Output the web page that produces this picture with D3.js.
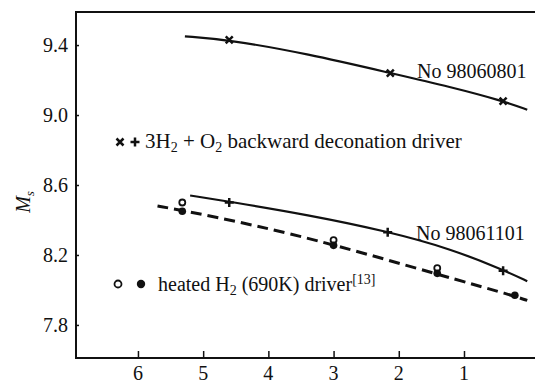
<!DOCTYPE html>
<html>
<head>
<meta charset="utf-8">
<script src="https://cdn.jsdelivr.net/npm/d3@7"></script>
<style>
  body { margin: 0; background: #fff; }
  svg text { font-family: "Liberation Serif", "Times New Roman", serif; fill: #111; }
</style>
</head>
<body>
<svg id="chart" width="535" height="383"></svg>
<script>
// --- data (x = distance, y = Ms) ---
const xTicks = [6, 5, 4, 3, 2, 1];
const yTicks = [7.8, 8.2, 8.6, 9.0, 9.4];

// No 98060801 : 3H2+O2 backward detonation driver, x markers
const shot1Marks = [[4.6, 9.43], [2.13, 9.24], [0.4, 9.08]];
const shot1Fit = [[5.28, 9.45], [4.6, 9.43], [3.4, 9.35], [2.13, 9.24], [1.2, 9.16], [0.4, 9.08], [0.03, 9.03]];

// No 98061101 : + markers
const shot2Marks = [[4.6, 8.50], [2.17, 8.33], [0.4, 8.11]];
const shot2Fit = [[5.2, 8.54], [4.6, 8.505], [3.4, 8.43], [2.17, 8.335], [1.2, 8.235], [0.4, 8.115], [0.03, 8.05]];

// heated H2 (690K) driver [13]
const heatedOpen = [[5.32, 8.50], [3.0, 8.285], [1.41, 8.125]];
const heatedFilled = [[5.32, 8.45], [3.0, 8.255], [1.41, 8.095], [0.22, 7.97]];
const heatedFit = [[5.7, 8.48], [5.32, 8.455], [4.2, 8.37], [3.0, 8.26], [1.41, 8.09], [0.22, 7.965], [0.03, 7.94]];

const svg = d3.select("#chart");
const plotLeft = 76, plotRight = 529.2, plotTop = 12, plotBottom = 358;

const x = d3.scaleLinear().domain([6.95, 0]).range([plotLeft, plotRight]);
const y = d3.scaleLinear().domain([7.611, 9.589]).range([plotBottom, plotTop]);

// frame: left, top, bottom
svg.append("path")
  .attr("d", `M535,${plotTop}H${plotLeft}V${plotBottom}H535`)
  .attr("fill", "none").attr("stroke", "#111").attr("stroke-width", 2);

// y axis ticks (inward)
const yAxis = svg.append("g")
  .attr("transform", `translate(${plotLeft},0)`)
  .call(d3.axisRight(y).tickValues(yTicks).tickSize(3).tickFormat(""));
yAxis.select(".domain").remove();
yAxis.selectAll("line").attr("stroke", "#111").attr("stroke-width", 1.5);

svg.append("g").selectAll("text")
  .data(yTicks).enter().append("text")
  .attr("x", plotLeft - 8)
  .attr("y", d => y(d) + 7)
  .attr("text-anchor", "end")
  .style("font-size", "20px")
  .text(d => d.toFixed(1));

// x axis ticks (inward)
const xAxis = svg.append("g")
  .attr("transform", `translate(0,${plotBottom})`)
  .call(d3.axisTop(x).tickValues(xTicks).tickSize(7).tickFormat(""));
xAxis.select(".domain").remove();
xAxis.selectAll("line").attr("stroke", "#111").attr("stroke-width", 1.5);

svg.append("g").selectAll("text")
  .data(xTicks).enter().append("text")
  .attr("x", d => x(d))
  .attr("y", 380)
  .attr("text-anchor", "middle")
  .style("font-size", "20px")
  .text(d => d);

// y label M_s
const yl = svg.append("text")
  .attr("transform", "translate(30,202) rotate(-90)")
  .attr("text-anchor", "middle")
  .style("font-size", "20px")
  .style("font-style", "italic");
yl.append("tspan").text("M");
yl.append("tspan").attr("dy", 4).style("font-size", "13px").text("s");

// curves
const line = d3.line()
  .x(d => x(d[0]))
  .y(d => y(d[1]))
  .curve(d3.curveBasis);

function fitPath(data, dash) {
  svg.append("path")
    .datum(data.slice().sort((a, b) => b[0] - a[0]))
    .attr("d", line)
    .attr("fill", "none")
    .attr("stroke", "#111")
    .attr("stroke-width", dash ? 3 : 2.2)
    .attr("stroke-dasharray", dash ? "11,6" : null);
}
fitPath(shot1Fit, false);
fitPath(shot2Fit, false);
fitPath(heatedFit, true);

// markers
function cross(px, py, s) {
  svg.append("path")
    .attr("d", `M${px - s},${py - s}L${px + s},${py + s}M${px - s},${py + s}L${px + s},${py - s}`)
    .attr("stroke", "#111").attr("stroke-width", 2.5);
}
function plus(px, py, s) {
  svg.append("path")
    .attr("d", `M${px - s},${py}H${px + s}M${px},${py - s}V${py + s}`)
    .attr("stroke", "#111").attr("stroke-width", 2.5);
}
shot1Marks.forEach(d => cross(x(d[0]), y(d[1]), 3.5));
shot2Marks.forEach(d => plus(x(d[0]), y(d[1]), 4.5));

svg.append("g").selectAll("circle")
  .data(heatedOpen).enter().append("circle")
  .attr("cx", d => x(d[0])).attr("cy", d => y(d[1])).attr("r", 3)
  .attr("fill", "#fff").attr("stroke", "#111").attr("stroke-width", 1.8);
svg.append("g").selectAll("circle")
  .data(heatedFilled).enter().append("circle")
  .attr("cx", d => x(d[0])).attr("cy", d => y(d[1])).attr("r", 3.8)
  .attr("fill", "#111");

// shot labels
svg.append("text").attr("x", 417).attr("y", 78).style("font-size", "20px").text("No 98060801");
svg.append("text").attr("x", 416).attr("y", 240).style("font-size", "20px").text("No 98061101");

// legend 1
cross(120, 142, 3.5);
plus(135, 142, 4.5);
const l1 = svg.append("text").attr("x", 145).attr("y", 148).style("font-size", "21px");
l1.append("tspan").text("3H");
l1.append("tspan").attr("dy", 4).style("font-size", "14px").text("2");
l1.append("tspan").attr("dy", -4).text(" + O");
l1.append("tspan").attr("dy", 4).style("font-size", "14px").text("2");
l1.append("tspan").attr("dy", -4).text(" backward deconation driver");

// legend 2
svg.append("circle").attr("cx", 118).attr("cy", 284).attr("r", 3.5)
  .attr("fill", "#fff").attr("stroke", "#111").attr("stroke-width", 1.8);
svg.append("circle").attr("cx", 141).attr("cy", 284).attr("r", 4.2).attr("fill", "#111");
const l2 = svg.append("text").attr("x", 158).attr("y", 291).style("font-size", "20px");
l2.append("tspan").text("heated H");
l2.append("tspan").attr("dy", 4).style("font-size", "14px").text("2");
l2.append("tspan").attr("dy", -4).text(" (690K) driver");
l2.append("tspan").attr("dy", -7).style("font-size", "14px").text("[13]");
</script>
</body>
</html>
